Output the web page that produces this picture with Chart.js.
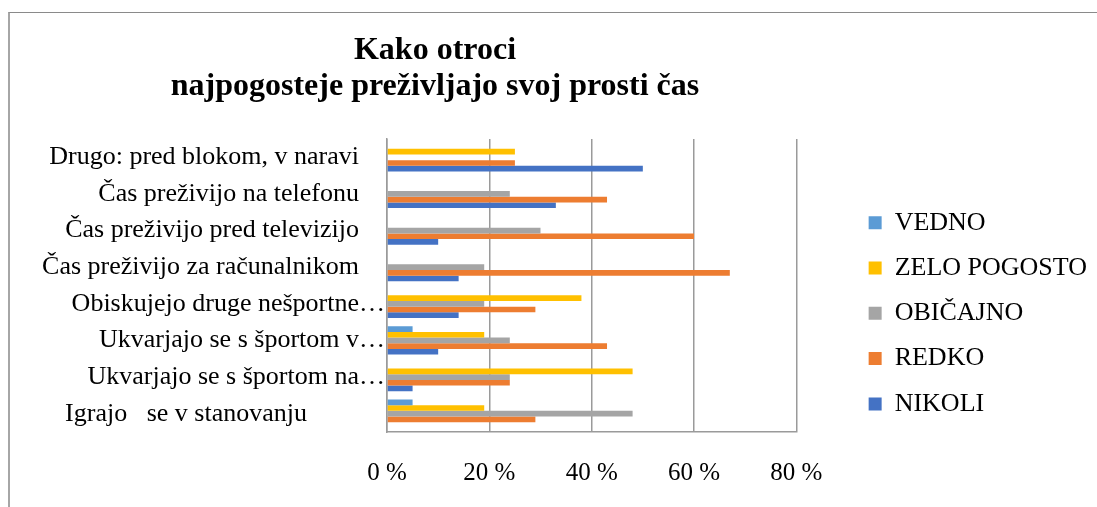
<!DOCTYPE html>
<html>
<head>
<meta charset="utf-8">
<script src="https://cdn.jsdelivr.net/npm/chart.js@4.4.1/dist/chart.umd.min.js"></script>
<style>
  html, body { margin: 0; padding: 0; background: #fff; overflow: hidden; }
  #wrap { position: relative; width: 1097px; height: 507px; }
  #frame { position: absolute; left: 8px; top: 12px; width: 1200px; height: 600px;
           border-top: 1px solid #8a8a8a; border-left: 2px solid #a6a6a6; }
  #chart { position: absolute; left: 0; top: 0; }
</style>
</head>
<body>
<div id="wrap">
  <div id="frame"></div>
  <canvas id="chart" width="1097" height="507"></canvas>
</div>
<script>
const titleLines = ['Kako otroci', 'najpogosteje preživljajo svoj prosti čas'];

// top to bottom, as on the picture
const categories = [
  'Drugo: pred blokom, v naravi    ',
  'Čas preživijo na telefonu    ',
  'Čas preživijo pred televizijo    ',
  'Čas preživijo za računalnikom    ',
  'Obiskujejo druge nešportne…',
  'Ukvarjajo se s športom v…',
  'Ukvarjajo se s športom na…',
  'Igrajo   se v stanovanju            ',
];

const seriesNames = ['VEDNO', 'ZELO POGOSTO', 'OBIČAJNO', 'REDKO', 'NIKOLI'];
const seriesColors = ['#5b9bd5', '#ffc000', '#a5a5a5', '#ed7d31', '#4472c4'];

const vedno       = [0, 0, 0, 0, 0, 5, 0, 5];
const zeloPogosto = [25, 0, 0, 0, 38, 19, 48, 19];
const obicajno    = [0, 24, 30, 19, 19, 24, 24, 48];
const redko       = [25, 43, 60, 67, 29, 43, 24, 29];
const nikoli      = [50, 33, 10, 14, 14, 10, 5, 0];

const xMax = 80;
const xStep = 20;

const serif = '"Liberation Serif", "Times New Roman", serif';

// title is centred left of the plot centre, so draw it ourselves
const sideTitle = {
  id: 'sideTitle',
  afterDraw(chart, args, opts) {
    const ctx = chart.ctx;
    ctx.save();
    ctx.font = 'bold 32px ' + serif;
    ctx.fillStyle = '#000';
    ctx.textAlign = 'center';
    ctx.textBaseline = 'alphabetic';
    titleLines.forEach((t, i) => ctx.fillText(t, opts.x, opts.y + i * opts.gap));
    ctx.restore();
  }
};

const allData = [vedno, zeloPogosto, obicajno, redko, nikoli];

new Chart(document.getElementById('chart'), {
  type: 'bar',
  data: {
    labels: categories,
    datasets: seriesNames.map((name, i) => ({
      label: name,
      data: allData[i],
      backgroundColor: seriesColors[i],
      borderWidth: 0,
      categoryPercentage: 0.77,
      barPercentage: 1.0,
    })),
  },
  options: {
    indexAxis: 'y',
    responsive: false,
    animation: false,
    layout: { padding: { top: 139, left: 0, right: 0, bottom: 0 } },
    scales: {
      x: {
        min: 0,
        max: xMax,
        ticks: {
          stepSize: xStep,
          padding: 26,
          color: '#000',
          font: { family: serif, size: 25 },
          callback: (v) => v + ' %',
        },
        grid: { color: '#9a9a9a', lineWidth: 1.5, drawTicks: false },
        border: { color: '#9a9a9a', width: 1.5 },
        afterFit: (s) => { s.height = 75; },
      },
      y: {
        ticks: {
          padding: 2,
          color: '#000',
          font: { family: serif, size: 26 },
        },
        grid: { display: false, drawTicks: false },
        border: { color: '#9a9a9a', width: 1.5 },
        afterFit: (s) => { s.width = 387; },
      },
      // empty spacer between plot and legend
      y2: {
        axis: 'y',
        type: 'linear',
        position: 'right',
        grid: { display: false, drawTicks: false },
        border: { display: false },
        ticks: { display: false },
        afterFit: (s) => { s.width = 53; },
      },
    },
    plugins: {
      title: { display: false },
      tooltip: { enabled: false },
      legend: {
        position: 'right',
        align: 'start',
        maxWidth: 320,
        // empty legend title only pushes the items down
        title: { display: true, text: '', font: { size: 10 }, padding: { top: 39.4, bottom: 0 } },
        labels: {
          boxWidth: 13,
          boxHeight: 13,
          padding: 19.3,
          color: '#000',
          font: { family: serif, size: 26 },
        },
      },
      sideTitle: { x: 435, y: 59, gap: 36 },
    },
  },
  plugins: [sideTitle],
});
</script>
</body>
</html>
